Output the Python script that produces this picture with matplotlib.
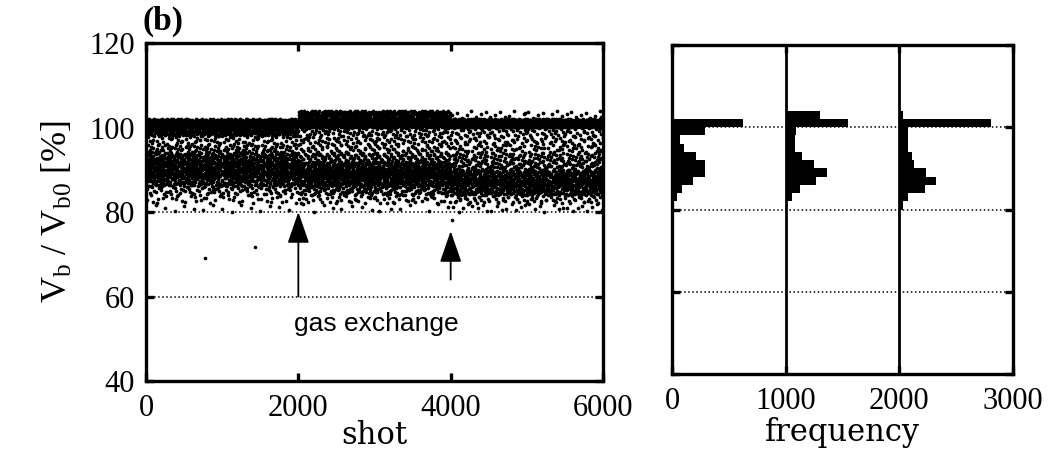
import matplotlib
matplotlib.use("Agg")
import matplotlib.pyplot as plt
import numpy as np

# ヒストグラムのビン下端（幅 2%）
bin_lo = [80, 82, 84, 86, 88, 90, 92, 94, 96, 98, 100, 102]
bin_w = 2

# 各期間の度数  0-2000 / 2000-4000 / 4000-6000 shot
count_1 = [15, 40, 84, 186, 293, 293, 214, 107, 70, 287, 626, 0]
count_2 = [15, 56, 130, 265, 365, 250, 145, 85, 85, 90, 550, 306]
count_3 = [30, 80, 225, 322, 234, 130, 108, 75, 75, 80, 810, 35]
counts = [count_1, count_2, count_3]
hist_offset = [0, 1000, 2000]
period_start = [0, 2000, 4000]
period_len = 2000

# 外れ値
out_shot = [775, 1431, 4013]
out_vb = [69.1, 71.7, 78.1]


def halton(k, base):
    # ビン内で点を散らすための並び (van der Corput)
    k = k.copy()
    f = 1.0
    r = np.zeros(len(k))
    while k.any():
        f /= base
        r += f * (k % base)
        k //= base
    return r


plt.rcParams['font.family'] = ['Liberation Serif', 'DejaVu Serif']
plt.rcParams['mathtext.default'] = 'regular'

fig = plt.figure(figsize=(10.52, 4.51), dpi=100)
ax = fig.add_axes([0.1388, 0.1552, 0.4344, 0.7494])
ax2 = fig.add_axes([0.6388, 0.1707, 0.3241, 0.7295])

# 散布図: 各期間の度数をビン内に並べる
shot = []
vb = []
for i, (p, cnt) in enumerate(zip(period_start, counts)):
    for j, (lo, c) in enumerate(zip(bin_lo, cnt)):
        k = np.arange(c) + 1 + 37 * j + 211 * i
        shot.extend(p + period_len * halton(k, 2))
        vb.extend(lo + bin_w * halton(k, 3))
ax.plot(shot, vb, ls='none', marker='o', ms=2.7, mew=0, color='black')
ax.plot(out_shot, out_vb, ls='none', marker='o', ms=2.6, mew=0, color='black')

# 矢印
arrow = dict(arrowstyle='-|>,head_length=1.3,head_width=0.45',
             lw=1.3, color='black', mutation_scale=15, shrinkA=0, shrinkB=0)
ax.annotate('', xy=(2000, 80), xytext=(2000, 60), arrowprops=arrow)
ax.annotate('', xy=(4000, 75.5), xytext=(4000, 64), arrowprops=arrow)
ax.text(3030, 53.5, 'gas exchange', ha='center', va='center', fontsize=19,
        family=['Liberation Sans', 'DejaVu Sans'])

ax.set_xlim(0, 6000)
ax.set_ylim(40, 120)
ax.set_xticks([0, 2000, 4000, 6000])
ax.set_yticks([40, 60, 80, 100, 120])
ax.set_xlabel('shot', fontsize=22, family='DejaVu Serif', labelpad=-2)
ax.set_ylabel('V$_{b}$ / V$_{b0}$ [%]', fontsize=26, labelpad=10)

# ヒストグラム
for off, cnt in zip(hist_offset, counts):
    ax2.barh(bin_lo, cnt, height=bin_w, left=off, align='edge', color='black', lw=0)
for off in hist_offset[1:]:
    ax2.axvline(off, color='black', lw=2)
ax2.set_xlim(0, 3000)
ax2.set_ylim(40, 120)
ax2.set_xticks([0, 1000, 2000, 3000])
ax2.set_yticks([40, 60, 80, 100, 120])
ax2.tick_params(axis='y', labelleft=False)
ax2.set_xlabel('frequency', fontsize=22, family='DejaVu Serif', labelpad=1)

for a in (ax, ax2):
    a.set_axisbelow(True)
    a.yaxis.grid(True, ls=':', lw=1.1, color='black')
    for s in a.spines.values():
        s.set_linewidth(2.4)
    a.tick_params(direction='in', length=6, width=2.4, top=True, right=True,
                  labelsize=22, pad=8)
    a.tick_params(axis='x', pad=9)

fig.text(0.135, 0.935, '(b)', fontsize=24, fontweight='bold', va='baseline')

fig.savefig('out.png', dpi=100)
